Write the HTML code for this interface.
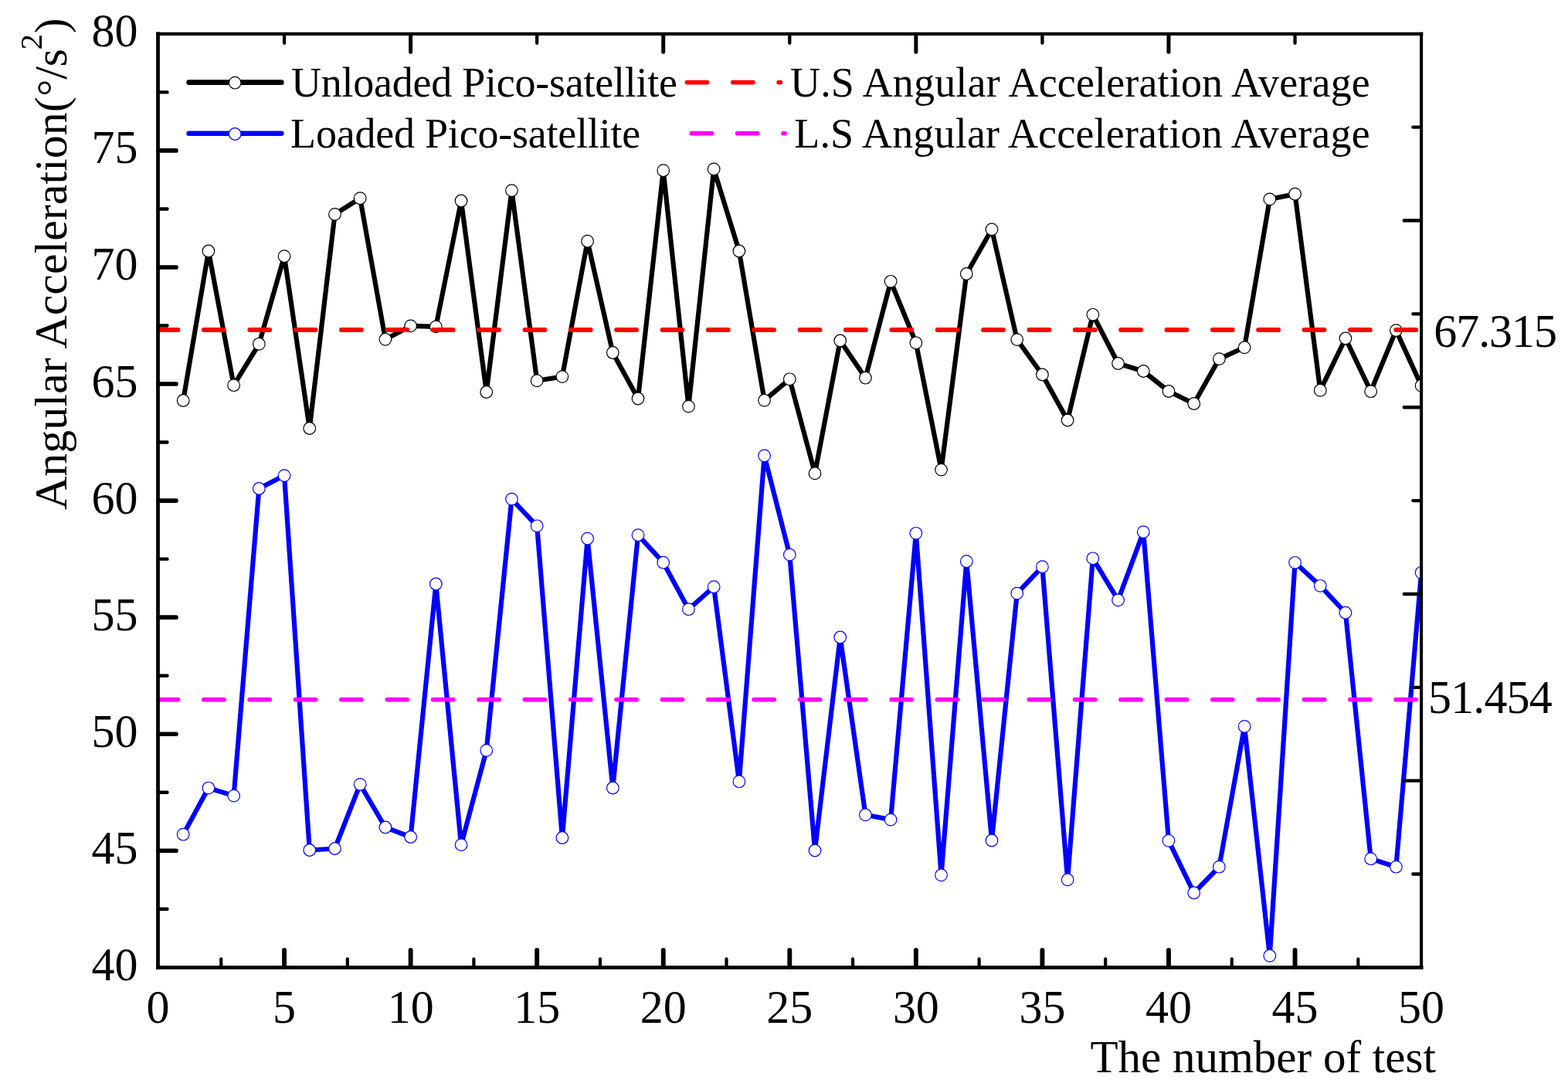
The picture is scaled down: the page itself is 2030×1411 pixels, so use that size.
<!DOCTYPE html>
<html><head><meta charset="utf-8"><title>Angular Acceleration vs. number of test</title>
<style>
html,body{margin:0;padding:0;background:#fff;overflow:hidden;}
svg{display:block;}
text{font-family:"Liberation Serif", "Times New Roman", serif;fill:#000;}
</style></head><body>
<svg width="2030" height="1411" viewBox="0 0 2030 1411">
<defs><clipPath id="pa"><rect x="204.5" y="43.85" width="1635.60" height="1208.50"/></clipPath></defs>
<rect width="2030" height="1411" fill="#fff"/>
<g clip-path="url(#pa)">
<polyline points="237.21,518.50 269.92,325.00 302.64,498.70 335.35,445.30 368.06,331.70 400.77,554.50 433.48,277.40 466.20,256.70 498.91,439.30 531.62,421.90 564.33,422.90 597.04,260.00 629.76,507.50 662.47,246.60 695.18,492.80 727.89,487.60 760.60,312.20 793.32,456.50 826.03,516.00 858.74,220.70 891.45,526.10 924.16,218.90 956.88,325.00 989.59,518.30 1022.30,490.80 1055.01,612.80 1087.72,441.00 1120.44,489.20 1153.15,364.30 1185.86,443.80 1218.57,608.10 1251.28,354.50 1284.00,296.90 1316.71,439.60 1349.42,485.00 1382.13,544.00 1414.84,407.30 1447.56,470.50 1480.27,480.50 1512.98,506.50 1545.69,522.50 1578.40,464.60 1611.12,449.80 1643.83,257.90 1676.54,251.20 1709.25,505.30 1741.96,438.00 1774.68,506.70 1807.39,427.60 1840.10,499.30" fill="none" stroke="#000" stroke-width="6.2" stroke-linejoin="round" stroke-linecap="round"/>
<g fill="#fff" stroke="#000" stroke-width="1.2"><circle cx="237.21" cy="518.50" r="7.8"/><circle cx="269.92" cy="325.00" r="7.8"/><circle cx="302.64" cy="498.70" r="7.8"/><circle cx="335.35" cy="445.30" r="7.8"/><circle cx="368.06" cy="331.70" r="7.8"/><circle cx="400.77" cy="554.50" r="7.8"/><circle cx="433.48" cy="277.40" r="7.8"/><circle cx="466.20" cy="256.70" r="7.8"/><circle cx="498.91" cy="439.30" r="7.8"/><circle cx="531.62" cy="421.90" r="7.8"/><circle cx="564.33" cy="422.90" r="7.8"/><circle cx="597.04" cy="260.00" r="7.8"/><circle cx="629.76" cy="507.50" r="7.8"/><circle cx="662.47" cy="246.60" r="7.8"/><circle cx="695.18" cy="492.80" r="7.8"/><circle cx="727.89" cy="487.60" r="7.8"/><circle cx="760.60" cy="312.20" r="7.8"/><circle cx="793.32" cy="456.50" r="7.8"/><circle cx="826.03" cy="516.00" r="7.8"/><circle cx="858.74" cy="220.70" r="7.8"/><circle cx="891.45" cy="526.10" r="7.8"/><circle cx="924.16" cy="218.90" r="7.8"/><circle cx="956.88" cy="325.00" r="7.8"/><circle cx="989.59" cy="518.30" r="7.8"/><circle cx="1022.30" cy="490.80" r="7.8"/><circle cx="1055.01" cy="612.80" r="7.8"/><circle cx="1087.72" cy="441.00" r="7.8"/><circle cx="1120.44" cy="489.20" r="7.8"/><circle cx="1153.15" cy="364.30" r="7.8"/><circle cx="1185.86" cy="443.80" r="7.8"/><circle cx="1218.57" cy="608.10" r="7.8"/><circle cx="1251.28" cy="354.50" r="7.8"/><circle cx="1284.00" cy="296.90" r="7.8"/><circle cx="1316.71" cy="439.60" r="7.8"/><circle cx="1349.42" cy="485.00" r="7.8"/><circle cx="1382.13" cy="544.00" r="7.8"/><circle cx="1414.84" cy="407.30" r="7.8"/><circle cx="1447.56" cy="470.50" r="7.8"/><circle cx="1480.27" cy="480.50" r="7.8"/><circle cx="1512.98" cy="506.50" r="7.8"/><circle cx="1545.69" cy="522.50" r="7.8"/><circle cx="1578.40" cy="464.60" r="7.8"/><circle cx="1611.12" cy="449.80" r="7.8"/><circle cx="1643.83" cy="257.90" r="7.8"/><circle cx="1676.54" cy="251.20" r="7.8"/><circle cx="1709.25" cy="505.30" r="7.8"/><circle cx="1741.96" cy="438.00" r="7.8"/><circle cx="1774.68" cy="506.70" r="7.8"/><circle cx="1807.39" cy="427.60" r="7.8"/><circle cx="1840.10" cy="499.30" r="7.8"/></g>
<polyline points="237.21,1080.20 269.92,1020.05 302.64,1030.10 335.35,632.50 368.06,615.60 400.77,1100.50 433.48,1098.50 466.20,1015.40 498.91,1071.00 531.62,1083.50 564.33,756.00 597.04,1093.60 629.76,971.40 662.47,646.10 695.18,680.80 727.89,1084.50 760.60,697.20 793.32,1020.00 826.03,692.70 858.74,728.20 891.45,788.70 924.16,759.70 956.88,1011.70 989.59,589.90 1022.30,718.10 1055.01,1101.00 1087.72,825.00 1120.44,1054.80 1153.15,1061.10 1185.86,690.30 1218.57,1132.80 1251.28,726.70 1284.00,1088.00 1316.71,768.10 1349.42,733.70 1382.13,1138.80 1414.84,722.80 1447.56,776.90 1480.27,688.60 1512.98,1088.30 1545.69,1155.75 1578.40,1122.20 1611.12,940.40 1643.83,1237.30 1676.54,728.30 1709.25,758.30 1741.96,793.25 1774.68,1111.70 1807.39,1122.20 1840.10,741.30" fill="none" stroke="#0000ff" stroke-width="6.2" stroke-linejoin="round" stroke-linecap="round"/>
<g fill="#fff" stroke="#0000ff" stroke-width="1.2"><circle cx="237.21" cy="1080.20" r="7.8"/><circle cx="269.92" cy="1020.05" r="7.8"/><circle cx="302.64" cy="1030.10" r="7.8"/><circle cx="335.35" cy="632.50" r="7.8"/><circle cx="368.06" cy="615.60" r="7.8"/><circle cx="400.77" cy="1100.50" r="7.8"/><circle cx="433.48" cy="1098.50" r="7.8"/><circle cx="466.20" cy="1015.40" r="7.8"/><circle cx="498.91" cy="1071.00" r="7.8"/><circle cx="531.62" cy="1083.50" r="7.8"/><circle cx="564.33" cy="756.00" r="7.8"/><circle cx="597.04" cy="1093.60" r="7.8"/><circle cx="629.76" cy="971.40" r="7.8"/><circle cx="662.47" cy="646.10" r="7.8"/><circle cx="695.18" cy="680.80" r="7.8"/><circle cx="727.89" cy="1084.50" r="7.8"/><circle cx="760.60" cy="697.20" r="7.8"/><circle cx="793.32" cy="1020.00" r="7.8"/><circle cx="826.03" cy="692.70" r="7.8"/><circle cx="858.74" cy="728.20" r="7.8"/><circle cx="891.45" cy="788.70" r="7.8"/><circle cx="924.16" cy="759.70" r="7.8"/><circle cx="956.88" cy="1011.70" r="7.8"/><circle cx="989.59" cy="589.90" r="7.8"/><circle cx="1022.30" cy="718.10" r="7.8"/><circle cx="1055.01" cy="1101.00" r="7.8"/><circle cx="1087.72" cy="825.00" r="7.8"/><circle cx="1120.44" cy="1054.80" r="7.8"/><circle cx="1153.15" cy="1061.10" r="7.8"/><circle cx="1185.86" cy="690.30" r="7.8"/><circle cx="1218.57" cy="1132.80" r="7.8"/><circle cx="1251.28" cy="726.70" r="7.8"/><circle cx="1284.00" cy="1088.00" r="7.8"/><circle cx="1316.71" cy="768.10" r="7.8"/><circle cx="1349.42" cy="733.70" r="7.8"/><circle cx="1382.13" cy="1138.80" r="7.8"/><circle cx="1414.84" cy="722.80" r="7.8"/><circle cx="1447.56" cy="776.90" r="7.8"/><circle cx="1480.27" cy="688.60" r="7.8"/><circle cx="1512.98" cy="1088.30" r="7.8"/><circle cx="1545.69" cy="1155.75" r="7.8"/><circle cx="1578.40" cy="1122.20" r="7.8"/><circle cx="1611.12" cy="940.40" r="7.8"/><circle cx="1643.83" cy="1237.30" r="7.8"/><circle cx="1676.54" cy="728.30" r="7.8"/><circle cx="1709.25" cy="758.30" r="7.8"/><circle cx="1741.96" cy="793.25" r="7.8"/><circle cx="1774.68" cy="1111.70" r="7.8"/><circle cx="1807.39" cy="1122.20" r="7.8"/><circle cx="1840.10" cy="741.30" r="7.8"/></g>
<path d="M204.5 427.0H1840.1" stroke="#ff0000" stroke-width="5.8" stroke-dasharray="26 33.36" stroke-linecap="round" fill="none"/>
<path d="M204.5 905.6H1840.1" stroke="#ff00ff" stroke-width="5.8" stroke-dasharray="26 33.36" stroke-linecap="round" fill="none"/>
</g>
<path d="M204.5 43.85V1252.35" stroke="#000" stroke-width="4.8" stroke-linecap="square"/>
<path d="M204.5 1252.35H1840.1" stroke="#000" stroke-width="4.8" stroke-linecap="square"/>
<path d="M204.5 43.85H1840.1" stroke="#000" stroke-width="4.3" stroke-linecap="square"/>
<path d="M1840.1 43.85V1252.35" stroke="#000" stroke-width="4.1" stroke-linecap="square"/>
<path d="M205.1 1101.29h22.9M205.1 950.22h22.9M205.1 799.16h22.9M205.1 648.10h22.9M205.1 497.04h22.9M205.1 345.97h22.9M205.1 194.91h22.9" stroke="#000" stroke-width="5.6" stroke-linecap="round" fill="none"/>
<path d="M205.1 1176.82h11.4M205.1 1025.76h11.4M205.1 874.69h11.4M205.1 723.63h11.4M205.1 572.57h11.4M205.1 421.51h11.4M205.1 270.44h11.4M205.1 119.38h11.4" stroke="#000" stroke-width="4.4" stroke-linecap="round" fill="none"/>
<path d="M368.06 1251.75v-21.9M531.62 1251.75v-21.9M695.18 1251.75v-21.9M858.74 1251.75v-21.9M1022.30 1251.75v-21.9M1185.86 1251.75v-21.9M1349.42 1251.75v-21.9M1512.98 1251.75v-21.9M1676.54 1251.75v-21.9" stroke="#000" stroke-width="5.9" stroke-linecap="round" fill="none"/>
<path d="M286.28 1251.75v-10.4M449.84 1251.75v-10.4M613.40 1251.75v-10.4M776.96 1251.75v-10.4M940.52 1251.75v-10.4M1104.08 1251.75v-10.4M1267.64 1251.75v-10.4M1431.20 1251.75v-10.4M1594.76 1251.75v-10.4M1758.32 1251.75v-10.4" stroke="#000" stroke-width="4.2" stroke-linecap="round" fill="none"/>
<path d="M531.62 44.45v22.9M858.74 44.45v22.9M1185.86 44.45v22.9M1512.98 44.45v22.9" stroke="#000" stroke-width="5.0" stroke-linecap="round" fill="none"/>
<path d="M368.06 44.45v11.4M695.18 44.45v11.4M1022.30 44.45v11.4M1349.42 44.45v11.4M1676.54 44.45v11.4" stroke="#000" stroke-width="4.3" stroke-linecap="round" fill="none"/>
<path d="M1839.5 285.55h-21.7M1839.5 527.25h-21.7M1839.5 768.95h-21.7M1839.5 1010.65h-21.7" stroke="#000" stroke-width="4.4" stroke-linecap="round" fill="none"/>
<path d="M1839.5 164.70h-10.200000000000001M1839.5 406.40h-10.200000000000001M1839.5 648.10h-10.200000000000001M1839.5 889.80h-10.200000000000001M1839.5 1131.50h-10.200000000000001" stroke="#000" stroke-width="4.3" stroke-linecap="round" fill="none"/>
<text transform="translate(178.50 1268.85) scale(1 1.03)" font-size="60" text-anchor="end">40</text>
<text transform="translate(178.50 1117.79) scale(1 1.03)" font-size="60" text-anchor="end">45</text>
<text transform="translate(178.50 966.72) scale(1 1.03)" font-size="60" text-anchor="end">50</text>
<text transform="translate(178.50 815.66) scale(1 1.03)" font-size="60" text-anchor="end">55</text>
<text transform="translate(178.50 664.60) scale(1 1.03)" font-size="60" text-anchor="end">60</text>
<text transform="translate(178.50 513.54) scale(1 1.03)" font-size="60" text-anchor="end">65</text>
<text transform="translate(178.50 362.47) scale(1 1.03)" font-size="60" text-anchor="end">70</text>
<text transform="translate(178.50 211.41) scale(1 1.03)" font-size="60" text-anchor="end">75</text>
<text transform="translate(178.50 60.35) scale(1 1.03)" font-size="60" text-anchor="end">80</text>
<text transform="translate(204.50 1324.20) scale(1 1.03)" font-size="60" text-anchor="middle">0</text>
<text transform="translate(368.06 1324.20) scale(1 1.03)" font-size="60" text-anchor="middle">5</text>
<text transform="translate(531.62 1324.20) scale(1 1.03)" font-size="60" text-anchor="middle">10</text>
<text transform="translate(695.18 1324.20) scale(1 1.03)" font-size="60" text-anchor="middle">15</text>
<text transform="translate(858.74 1324.20) scale(1 1.03)" font-size="60" text-anchor="middle">20</text>
<text transform="translate(1022.30 1324.20) scale(1 1.03)" font-size="60" text-anchor="middle">25</text>
<text transform="translate(1185.86 1324.20) scale(1 1.03)" font-size="60" text-anchor="middle">30</text>
<text transform="translate(1349.42 1324.20) scale(1 1.03)" font-size="60" text-anchor="middle">35</text>
<text transform="translate(1512.98 1324.20) scale(1 1.03)" font-size="60" text-anchor="middle">40</text>
<text transform="translate(1676.54 1324.20) scale(1 1.03)" font-size="60" text-anchor="middle">45</text>
<text transform="translate(1840.10 1324.20) scale(1 1.03)" font-size="60" text-anchor="middle">50</text>
<text transform="translate(1856.30 448.60) scale(1 1.03)" font-size="60" textLength="159.70" lengthAdjust="spacing">67.315</text>
<text transform="translate(1849.10 922.90) scale(1 1.03)" font-size="60" textLength="160.60" lengthAdjust="spacing">51.454</text>
<text x="1411.50" y="1387.90" font-size="59">The number of test</text>
<text x="377.00" y="124.90" font-size="54" textLength="500.00" lengthAdjust="spacing">Unloaded Pico-satellite</text>
<text x="376.10" y="190.90" font-size="54" textLength="453.10" lengthAdjust="spacing">Loaded Pico-satellite</text>
<text x="1023.00" y="125.00" font-size="54" textLength="750.80" lengthAdjust="spacing">U.S Angular Acceleration Average</text>
<text x="1028.20" y="190.80" font-size="54" textLength="745.40" lengthAdjust="spacing">L.S Angular Acceleration Average</text>
<text transform="translate(86 660) rotate(-90)" font-size="60"><tspan x="0" y="0">Angular Acceleration(</tspan><tspan x="535.35" y="0" font-size="55">°</tspan><tspan x="557.25" y="0">/</tspan><tspan x="573.4" y="0">s</tspan><tspan x="595.5" y="-32" font-size="41">2</tspan><tspan x="616.8" y="0">)</tspan></text>
<path d="M244.6 106.65H364.3" stroke="#000" stroke-width="6.6" stroke-linecap="round"/>
<circle cx="304.2" cy="107.2" r="7.8" fill="#fff" stroke="#000" stroke-width="1.2"/>
<path d="M244.6 172.8H364.3" stroke="#0000ff" stroke-width="6.6" stroke-linecap="round"/>
<circle cx="304.2" cy="173.5" r="7.8" fill="#fff" stroke="#0000ff" stroke-width="1.2"/>
<path d="M889.5 106.6H1010.3" stroke="#ff0000" stroke-width="5.8" stroke-dasharray="26 33.36" stroke-linecap="round"/>
<path d="M895.4 172.7H1016.0" stroke="#ff00ff" stroke-width="5.8" stroke-dasharray="26 33.36" stroke-linecap="round"/>
</svg></body></html>
